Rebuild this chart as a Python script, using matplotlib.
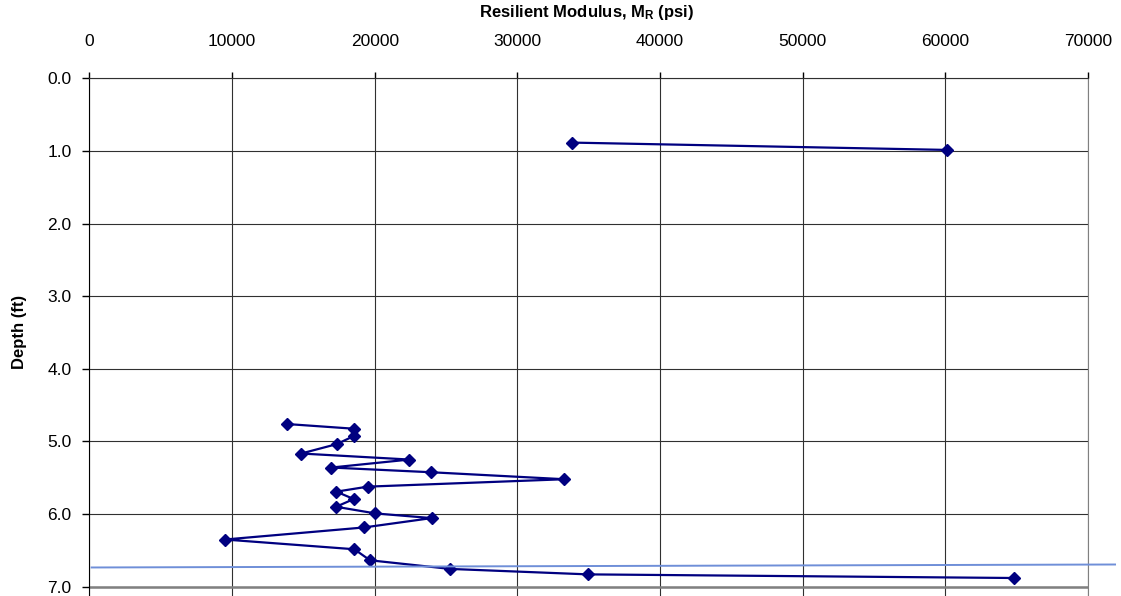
import matplotlib.pyplot as plt
from matplotlib.ticker import FormatStrFormatter

plt.rcParams['font.family'] = ['Liberation Sans', 'DejaVu Sans']
plt.rcParams['mathtext.fontset'] = 'custom'
plt.rcParams['mathtext.rm'] = 'Liberation Sans'
plt.rcParams['mathtext.bf'] = 'Liberation Sans:bold'

# resilient modulus (psi) against depth (ft): upper layer and lower layer
upper_modulus = [33800, 60150]
upper_depth = [0.885, 0.986]

lower_modulus = [13850, 18570, 18570, 17330, 14840, 22430, 16960, 23970,
                 33300, 19510, 17310, 18530, 17290, 20050, 23990, 19250,
                 9490, 18570, 19670, 25300, 34950, 64850]
lower_depth = [4.76, 4.825, 4.922, 5.037, 5.166, 5.249, 5.359, 5.424,
               5.52, 5.622, 5.691, 5.793, 5.899, 5.991, 6.055, 6.184,
               6.35, 6.484, 6.636, 6.755, 6.83, 6.88]

# hand-drawn reference line across the plot
ref_x = [150, 71900]
ref_y = [6.735, 6.694]

x_ticks = [0, 10000, 20000, 30000, 40000, 50000, 60000, 70000]
y_ticks = [0, 1, 2, 3, 4, 5, 6, 7]

fig = plt.figure(figsize=(11.21, 5.96), dpi=100)
ax = fig.add_axes([0.0798, -0.1063, 0.8907, 0.9749])

for xs, ys in [(upper_modulus, upper_depth), (lower_modulus, lower_depth)]:
    ax.plot(xs, ys, color='#000080', lw=1.6, marker='D', ms=6.3, zorder=3)
ax.plot(ref_x, ref_y, color='#6F8FD8', lw=1.4, clip_on=False, zorder=4)

ax.set_xlim(0, 70000)
ax.set_ylim(8, 0)
ax.set_xticks(x_ticks)
ax.set_yticks(y_ticks)
ax.yaxis.set_major_formatter(FormatStrFormatter('%.1f'))
ax.xaxis.tick_top()
ax.tick_params(axis='x', length=4, width=1, pad=17, labelsize=12.5)
ax.tick_params(axis='y', length=5, width=1, pad=8, labelsize=12.5)

ax.grid(True, color='#303030', lw=0.8)
ax.set_axisbelow(True)
ax.axhline(7, color='#808080', lw=1.8, zorder=2)

ax.spines['top'].set_color('#303030')
ax.spines['left'].set_color('#000000')
ax.spines['right'].set_color('#808080')
ax.spines['bottom'].set_visible(False)

fig.text(0.523, 1 - 13 / 596, r'Resilient Modulus, $\mathbf{M_R}$ (psi)',
         ha='center', va='center', fontsize=12, fontweight='bold')
fig.text(20 / 1121, 1 - 332 / 596, 'Depth (ft)', rotation=90,
         ha='center', va='center', fontsize=12, fontweight='bold')

fig.savefig('out.png', dpi=100)
